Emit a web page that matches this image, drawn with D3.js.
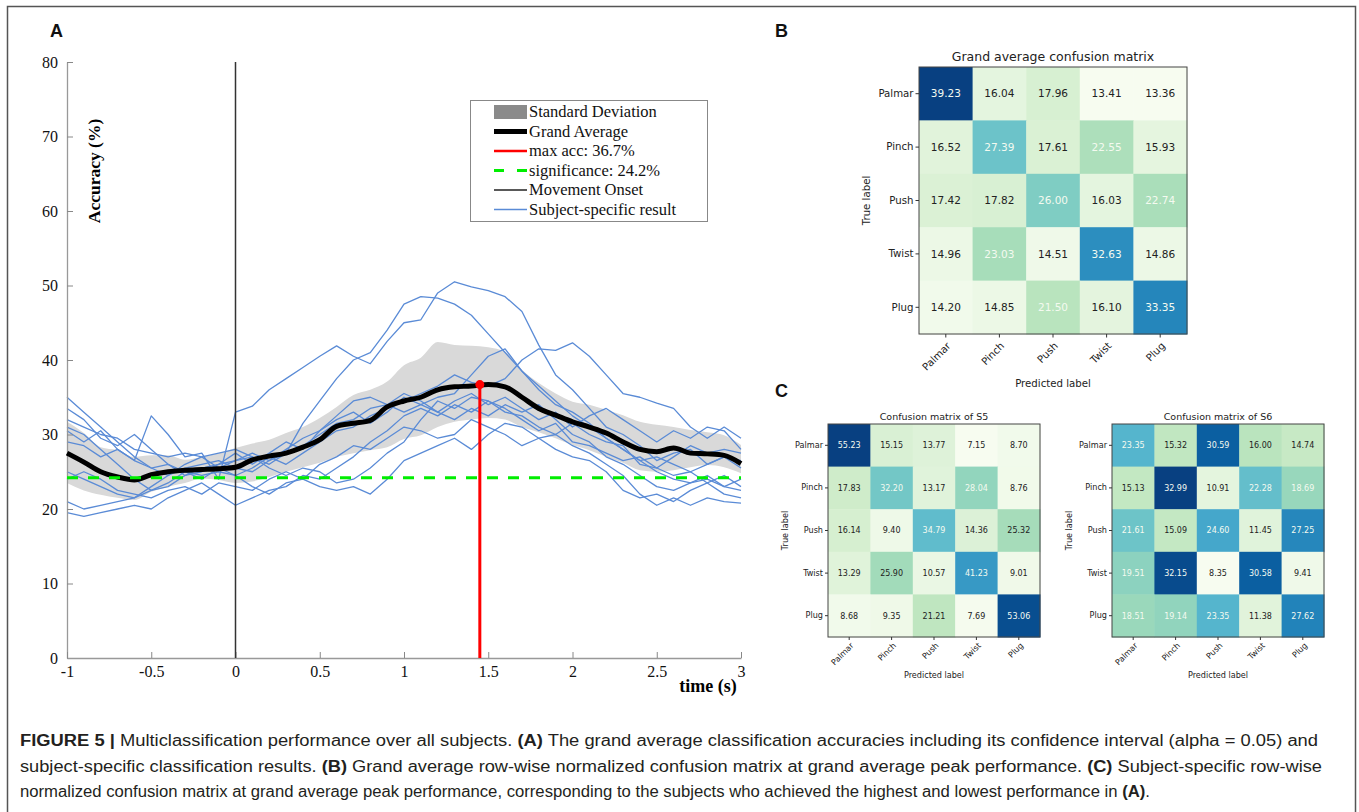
<!DOCTYPE html>
<html lang="en">
<head>
<meta charset="UTF-8">
<title>Figure 5 - Multiclassification performance</title>
<script src="https://d3js.org/d3.v7.min.js"></script>
<style>
  body { margin: 0; background: #fff; }
  svg { display: block; }
</style>
</head>
<body>
<svg id="fig" width="1359" height="812"></svg>
<script>
// ---- panel A data (accuracy in %, time in s) ----
const timeSec = [-1.0, -0.9, -0.8, -0.7, -0.6, -0.5, -0.4, -0.3, -0.2, -0.1,
  0.0, 0.1, 0.2, 0.3, 0.4, 0.5, 0.6, 0.7, 0.8, 0.9,
  1.0, 1.1, 1.2, 1.3, 1.4, 1.5, 1.6, 1.7, 1.8, 1.9,
  2.0, 2.1, 2.2, 2.3, 2.4, 2.5, 2.6, 2.7, 2.8, 2.9, 3.0];

const grandAvg = [27.5, 26.3, 25.0, 24.3, 23.9, 24.6, 25.0, 25.2, 25.3, 25.4,
  25.6, 26.6, 27.1, 27.5, 28.3, 29.3, 31.1, 31.5, 31.9, 33.7,
  34.5, 35.0, 36.0, 36.4, 36.5, 36.7, 36.4, 35.0, 33.5, 32.6,
  31.7, 31.0, 30.2, 29.0, 28.0, 27.7, 28.2, 27.5, 27.4, 27.2, 26.1];

const sdUpper = [31.7, 30.2, 28.3, 27.9, 27.0, 27.2, 27.2, 26.6, 27.0, 27.5,
  28.2, 28.8, 29.3, 30.2, 31.0, 32.2, 33.7, 35.3, 36.0, 37.1,
  39.3, 40.3, 42.4, 42.0, 41.9, 41.7, 41.1, 38.7, 36.9, 35.5,
  34.4, 34.0, 33.3, 32.6, 31.7, 31.3, 31.0, 30.6, 30.3, 29.9, 28.6];

const sdLower = [23.5, 22.5, 21.9, 21.5, 21.2, 22.3, 23.0, 23.5, 24.1, 23.9,
  23.5, 23.7, 24.3, 25.0, 25.6, 26.2, 27.0, 27.5, 27.9, 28.3,
  29.4, 29.9, 31.0, 31.7, 32.0, 32.2, 32.0, 31.0, 30.3, 29.5,
  28.6, 27.9, 27.0, 26.2, 25.2, 25.0, 25.2, 25.6, 25.9, 25.6, 24.8];

const subj01 = [30.5, 29.0, 30.5, 28.0, 26.5, 32.5, 30.0, 27.0, 27.5, 24.0,
  33.0, 33.8, 36.0, 37.5, 39.0, 40.5, 41.9, 40.5, 39.5, 42.5,
  45.0, 45.4, 49.0, 50.5, 49.8, 49.3, 48.5, 46.5, 42.0, 38.0,
  36.0, 33.5, 31.0, 30.0, 28.5, 26.5, 27.5, 28.0, 26.0, 27.0, 25.5];
const subj02 = [35.0, 33.0, 31.0, 29.0, 27.0, 25.5, 24.5, 25.5, 26.0, 26.5,
  25.5, 25.0, 26.5, 27.5, 31.5, 34.5, 37.5, 40.0, 41.0, 44.0,
  47.5, 48.5, 48.3, 47.5, 46.0, 43.5, 41.0, 38.5, 36.0, 34.0,
  33.0, 31.5, 29.5, 28.0, 26.5, 25.0, 24.0, 23.5, 24.5, 23.0, 22.5];
const subj03 = [33.5, 32.0, 29.5, 28.5, 30.0, 28.0, 26.0, 25.0, 24.5, 25.0,
  24.5, 25.5, 27.0, 26.0, 27.5, 29.0, 30.5, 31.0, 32.5, 33.5,
  34.5, 35.5, 36.5, 38.0, 37.0, 36.5, 37.5, 40.0, 41.5, 41.3,
  42.3, 40.5, 38.0, 35.5, 35.0, 34.2, 33.5, 31.0, 29.5, 31.0, 29.5];
const subj04 = [31.0, 30.0, 28.0, 26.0, 24.0, 22.5, 23.5, 25.0, 24.0, 25.5,
  26.5, 27.0, 26.0, 27.5, 28.5, 30.0, 31.5, 32.0, 33.5, 34.0,
  33.0, 34.0, 35.0, 35.5, 38.0, 40.5, 41.5, 38.5, 36.5, 34.5,
  32.5, 31.0, 29.5, 28.0, 26.5, 27.0, 26.0, 25.0, 26.0, 27.0, 26.5];
const subj05 = [29.0, 28.5, 27.0, 28.0, 26.5, 25.5, 26.0, 24.5, 25.0, 26.0,
  27.5, 26.0, 27.5, 29.0, 28.0, 30.5, 32.0, 33.0, 31.5, 33.0,
  35.0, 34.0, 33.0, 34.5, 35.5, 34.0, 35.0, 33.5, 32.0, 33.0,
  31.0, 32.5, 33.5, 32.0, 30.5, 29.0, 30.5, 29.5, 31.0, 30.5, 28.0];
const subj06 = [25.0, 24.0, 23.0, 22.0, 21.5, 22.5, 23.0, 24.5, 25.5, 26.0,
  26.5, 27.5, 26.5, 28.0, 29.5, 30.5, 32.5, 34.5, 35.0, 34.0,
  35.5, 34.5, 33.0, 32.0, 33.5, 32.5, 34.0, 33.0, 34.0, 32.0,
  30.0, 29.0, 27.0, 26.0, 24.5, 23.0, 22.5, 23.5, 24.0, 23.0, 24.0];
const subj07 = [24.0, 25.0, 24.0, 22.5, 22.0, 21.5, 22.5, 23.0, 22.0, 23.5,
  23.0, 22.5, 24.0, 25.0, 24.0, 26.0, 27.0, 28.5, 28.0, 29.5,
  31.0, 30.5, 29.5, 30.0, 32.0, 31.0, 30.0, 28.5, 29.5, 28.0,
  27.0, 26.5, 25.0, 22.5, 21.5, 22.0, 21.0, 22.5, 23.5, 22.0, 21.5];
const subj08 = [19.5, 19.0, 19.5, 20.0, 20.5, 20.0, 21.5, 22.5, 23.5, 22.0,
  20.5, 21.5, 22.5, 23.0, 24.5, 24.0, 25.5, 27.0, 29.0, 30.5,
  32.5, 33.5, 32.5, 34.0, 33.0, 34.5, 33.5, 32.0, 30.5, 31.5,
  29.0, 28.5, 27.5, 26.5, 27.0, 25.5, 24.5, 25.0, 23.5, 24.5, 23.0];
const subj09 = [21.0, 20.0, 20.5, 21.0, 21.5, 23.0, 24.5, 26.0, 27.0, 25.5,
  24.5, 23.0, 22.0, 23.5, 24.0, 23.0, 22.5, 23.0, 22.0, 24.0,
  26.5, 27.5, 28.5, 29.5, 28.0, 30.0, 31.5, 31.0, 29.5, 30.0,
  28.5, 27.5, 26.0, 24.5, 22.0, 20.5, 21.5, 20.5, 21.5, 21.0, 20.8];
const subj10 = [32.0, 31.0, 30.0, 29.5, 28.0, 27.5, 27.0, 27.5, 27.0, 27.5,
  28.0, 27.0, 25.5, 24.5, 25.5, 25.0, 23.5, 24.0, 25.5, 27.5,
  29.0, 32.0, 34.5, 33.5, 35.0, 34.5, 33.0, 32.5, 31.0, 30.0,
  31.5, 30.0, 29.0, 28.5, 26.0, 25.5, 27.0, 28.5, 27.5, 28.0, 27.5];
const subjectSeries = [subj01, subj02, subj03, subj04, subj05, subj06, subj07, subj08, subj09, subj10];

const peakTime = 1.45, peakAcc = 36.7;
const chanceAcc = 24.2;
const yTicksA = [0, 10, 20, 30, 40, 50, 60, 70, 80];
const xTicksA = [-1, -0.5, 0, 0.5, 1, 1.5, 2, 2.5, 3];
const legendLabels = ["Standard Deviation", "Grand Average", "max acc: 36.7%",
  "significance: 24.2%", "Movement Onset", "Subject-specific result"];

// ---- panels B and C: row-normalised confusion matrices (%) ----
const classNames = ["Palmar", "Pinch", "Push", "Twist", "Plug"];
const cmGrand = [
  [39.23, 16.04, 17.96, 13.41, 13.36],
  [16.52, 27.39, 17.61, 22.55, 15.93],
  [17.42, 17.82, 26.00, 16.03, 22.74],
  [14.96, 23.03, 14.51, 32.63, 14.86],
  [14.20, 14.85, 21.50, 16.10, 33.35]];
const cmS5 = [
  [55.23, 15.15, 13.77, 7.15, 8.70],
  [17.83, 32.20, 13.17, 28.04, 8.76],
  [16.14, 9.40, 34.79, 14.36, 25.32],
  [13.29, 25.90, 10.57, 41.23, 9.01],
  [8.68, 9.35, 21.21, 7.69, 53.06]];
const cmS6 = [
  [23.35, 15.32, 30.59, 16.00, 14.74],
  [15.13, 32.99, 10.91, 22.28, 18.69],
  [21.61, 15.09, 24.60, 11.45, 27.25],
  [19.51, 32.15, 8.35, 30.58, 9.41],
  [18.51, 19.14, 23.35, 11.38, 27.62]];

const serif = "'Liberation Serif', 'Times New Roman', serif";
const mpl = "'DejaVu Sans', sans-serif";
const arial = "'Liberation Sans', Arial, sans-serif";

const svg = d3.select("#fig");
svg.append("rect").attr("width", 1359).attr("height", 812).attr("fill", "#fff");
// outer frame of the figure
svg.append("rect").attr("x", 7.5).attr("y", 6.5).attr("width", 1348).attr("height", 830)
  .attr("fill", "none").attr("stroke", "#555").attr("stroke-width", 1.5);

// panel letters
[["A", 50, 37], ["B", 775, 37], ["C", 775, 397]].forEach(([t, x, y]) => {
  svg.append("text").attr("x", x).attr("y", y).text(t)
    .attr("font-family", arial).attr("font-weight", "bold").attr("font-size", 18).attr("fill", "#111");
});

// ================= panel A =================
const xA = d3.scaleLinear().domain([-1, 3]).range([67, 741]);
const yA = d3.scaleLinear().domain([0, 80]).range([658, 62]);
const gA = svg.append("g");

gA.append("path")
  .datum(timeSec.map((t, i) => [t, sdLower[i], sdUpper[i]]))
  .attr("d", d3.area().x(d => xA(d[0])).y0(d => yA(d[1])).y1(d => yA(d[2])).curve(d3.curveMonotoneX))
  .attr("fill", "#d9d9d9");

const subjLine = d3.line().x((d, i) => xA(timeSec[i])).y(d => yA(d));
gA.selectAll(".subj").data(subjectSeries).join("path")
  .attr("class", "subj").attr("d", subjLine)
  .attr("fill", "none").attr("stroke", "#5a8bd6").attr("stroke-width", 1.3)
  .attr("stroke-linejoin", "round");

// axes
const styleAxis = g => {
  g.select(".domain").attr("stroke", "#999").attr("stroke-width", 1.3);
  g.selectAll(".tick line").attr("stroke", "#888");
  g.selectAll("text").attr("font-family", serif).attr("font-size", 16).attr("fill", "#111");
};
gA.append("g").attr("transform", "translate(67,0)")
  .call(d3.axisLeft(yA).tickValues(yTicksA).tickSizeInner(-6).tickSizeOuter(0).tickPadding(9).tickFormat(d => String(d)))
  .call(styleAxis);
gA.append("g").attr("transform", "translate(0,658)")
  .call(d3.axisBottom(xA).tickValues(xTicksA).tickSizeInner(-6).tickSizeOuter(0).tickPadding(8).tickFormat(d => String(d)))
  .call(styleAxis);

gA.append("text").attr("transform", "translate(100,171) rotate(-90)")
  .attr("text-anchor", "middle").text("Accuracy (%)")
  .attr("font-family", serif).attr("font-weight", "bold").attr("font-size", 17.5);
gA.append("text").attr("x", 708).attr("y", 692).attr("text-anchor", "middle").text("time (s)")
  .attr("font-family", serif).attr("font-weight", "bold").attr("font-size", 18);

// movement onset
gA.append("line").attr("x1", xA(0)).attr("x2", xA(0)).attr("y1", yA(0)).attr("y2", yA(80))
  .attr("stroke", "#333").attr("stroke-width", 1.5);

// grand average
gA.append("path").datum(grandAvg)
  .attr("d", d3.line().x((d, i) => xA(timeSec[i])).y(d => yA(d)).curve(d3.curveMonotoneX))
  .attr("fill", "none").attr("stroke", "#000").attr("stroke-width", 5).attr("stroke-linejoin", "round");

// significance level
gA.append("line").attr("x1", xA(-1)).attr("x2", xA(3)).attr("y1", yA(chanceAcc)).attr("y2", yA(chanceAcc))
  .attr("stroke", "#00ee00").attr("stroke-width", 3).attr("stroke-dasharray", "11,10");

// max accuracy
gA.append("line").attr("x1", xA(peakTime)).attr("x2", xA(peakTime)).attr("y1", yA(0)).attr("y2", yA(peakAcc))
  .attr("stroke", "#ff0000").attr("stroke-width", 3);
gA.append("circle").attr("cx", xA(peakTime)).attr("cy", yA(peakAcc)).attr("r", 4.5).attr("fill", "#ff0000");

// legend
const leg = gA.append("g").attr("transform", "translate(470,100)");
leg.append("rect").attr("x", 0.5).attr("y", 0.5).attr("width", 237).attr("height", 121)
  .attr("fill", "#fff").attr("stroke", "#888");
legendLabels.forEach((lab, i) => {
  const cy = 12 + i * 19.5;
  if (i === 0) {
    leg.append("rect").attr("x", 24).attr("y", cy - 7).attr("width", 33).attr("height", 14).attr("fill", "#8a8a8a");
  } else {
    const st = [null, ["#000", 5, null], ["#ff0000", 2.5, null], ["#00ee00", 3, "10,13"],
      ["#222", 1.3, null], ["#5a8bd6", 1.3, null]][i];
    leg.append("line").attr("x1", 24).attr("x2", 57).attr("y1", cy).attr("y2", cy)
      .attr("stroke", st[0]).attr("stroke-width", st[1]).attr("stroke-dasharray", st[2]);
  }
  leg.append("text").attr("x", 59).attr("y", cy).attr("dy", "0.33em").text(lab)
    .attr("font-family", serif).attr("font-size", 16.5).attr("fill", "#111");
});

// ================= panels B, C =================
function drawMatrix(cm, o) {
  const g = svg.append("g");
  const x = d3.scaleBand().domain(classNames).range([o.x0, o.x1]);
  const y = d3.scaleBand().domain(classNames).range([o.y0, o.y1]);
  const flat = cm.flat();
  const color = d3.scaleSequential(d3.interpolateGnBu).domain(d3.extent(flat));
  const thresh = d3.max(flat) / 2;
  const cells = cm.flatMap((row, r) => row.map((v, c) => ({ r, c, v })));

  g.selectAll("rect.cell").data(cells).join("rect").attr("class", "cell")
    .attr("x", d => x(classNames[d.c])).attr("y", d => y(classNames[d.r]))
    .attr("width", x.bandwidth() + 0.5).attr("height", y.bandwidth() + 0.5)
    .attr("fill", d => color(d.v));
  g.selectAll("text.val").data(cells).join("text").attr("class", "val")
    .attr("x", d => x(classNames[d.c]) + x.bandwidth() / 2)
    .attr("y", d => y(classNames[d.r]) + y.bandwidth() / 2)
    .attr("dy", "0.36em").attr("text-anchor", "middle")
    .attr("font-family", mpl).attr("font-size", o.fsNum)
    .attr("fill", d => d.v > thresh ? "#f4faf0" : "#222")
    .text(d => d3.format(".2f")(d.v));
  g.append("rect").attr("x", o.x0).attr("y", o.y0).attr("width", o.x1 - o.x0).attr("height", o.y1 - o.y0)
    .attr("fill", "none").attr("stroke", "#444").attr("stroke-width", 1);

  // y ticks
  const yAx = g.append("g").attr("transform", `translate(${o.x0},0)`)
    .call(d3.axisLeft(y).tickSize(o.tick).tickPadding(2));
  yAx.select(".domain").remove();
  yAx.selectAll("line").attr("stroke", "#333");
  yAx.selectAll("text").attr("font-family", mpl).attr("font-size", o.fsTick).attr("fill", "#222");
  // x ticks, labels rotated 45 degrees
  const xAx = g.append("g").attr("transform", `translate(0,${o.y1})`)
    .call(d3.axisBottom(x).tickSize(o.tick));
  xAx.select(".domain").remove();
  xAx.selectAll("line").attr("stroke", "#333");
  xAx.selectAll("text").attr("x", 0).attr("y", 0).attr("dy", "0.35em")
    .attr("transform", `translate(${o.rx},${o.ry}) rotate(-45)`)
    .style("text-anchor", "end")
    .attr("font-family", mpl).attr("font-size", o.fsTick).attr("fill", "#222");

  const cx = (o.x0 + o.x1) / 2, cy = (o.y0 + o.y1) / 2;
  g.append("text").attr("x", cx).attr("y", o.titleY).attr("text-anchor", "middle").text(o.title)
    .attr("font-family", mpl).attr("font-size", o.fsTitle).attr("fill", "#222");
  g.append("text").attr("x", cx).attr("y", o.predY).attr("text-anchor", "middle").text("Predicted label")
    .attr("font-family", mpl).attr("font-size", o.fsTick).attr("fill", "#222");
  g.append("text").attr("transform", `translate(${o.trueX},${cy}) rotate(-90)`)
    .attr("text-anchor", "middle").text("True label")
    .attr("font-family", mpl).attr("font-size", o.fsTick).attr("fill", "#222");
}

drawMatrix(cmGrand, { x0: 919, x1: 1187, y0: 67, y1: 334, title: "Grand average confusion matrix",
  fsNum: 10.5, fsTick: 10.2, fsTitle: 12.5, tick: 3.5, rx: 3, ry: 10, titleY: 61, predY: 387, trueX: 870 });
drawMatrix(cmS5, { x0: 828, x1: 1040, y0: 424, y1: 637, title: "Confusion matrix of S5",
  fsNum: 8, fsTick: 8.1, fsTitle: 9.5, tick: 3, rx: 3, ry: 7, titleY: 420, predY: 678, trueX: 788 });
drawMatrix(cmS6, { x0: 1112, x1: 1324, y0: 424, y1: 637, title: "Confusion matrix of S6",
  fsNum: 8, fsTick: 8.1, fsTitle: 9.5, tick: 3, rx: 3, ry: 7, titleY: 420, predY: 678, trueX: 1072 });

// ================= caption =================
const captionLines = [
  { y: 746, w: 1298, parts: [["FIGURE 5 | ", true], ["Multiclassification performance over all subjects. ", false], ["(A)", true],
    [" The grand average classification accuracies including its confidence interval (alpha = 0.05) and", false]] },
  { y: 772, w: 1302, parts: [["subject-specific classification results. ", false], ["(B)", true],
    [" Grand average row-wise normalized confusion matrix at grand average peak performance. ", false], ["(C)", true],
    [" Subject-specific row-wise", false]] },
  { y: 797, w: 1130, parts: [["normalized confusion matrix at grand average peak performance, corresponding to the subjects who achieved the highest and lowest performance in ", false],
    ["(A)", true], [".", false]] }
];
captionLines.forEach(l => {
  const t = svg.append("text").attr("x", 20).attr("y", l.y)
    .attr("font-family", "'Liberation Sans Narrow', 'Liberation Sans', Arial, sans-serif")
    .attr("font-size", 16).attr("fill", "#231f20")
    .attr("textLength", l.w).attr("lengthAdjust", "spacingAndGlyphs");
  l.parts.forEach(([s, b]) => t.append("tspan").text(s).attr("font-weight", b ? "bold" : "normal"));
});
</script>
</body>
</html>
